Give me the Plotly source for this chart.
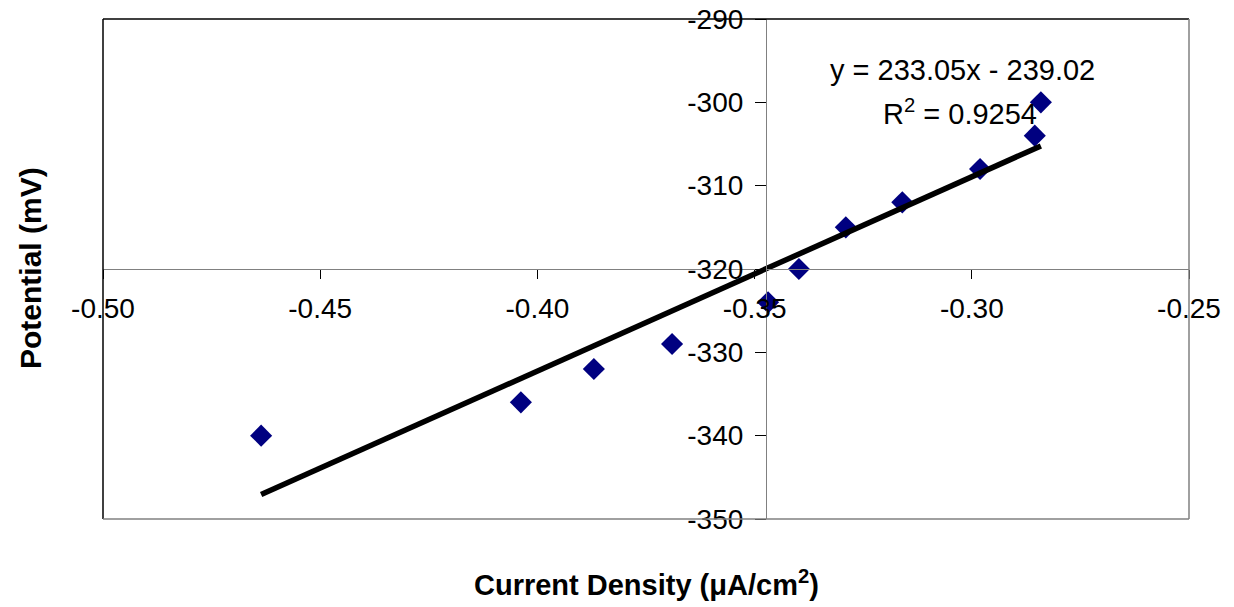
import plotly.graph_objects as go

# Data
current_density = [-0.4636, -0.4038, -0.3870, -0.3690, -0.3469, -0.3398,
                   -0.3290, -0.3160, -0.2981, -0.2855, -0.2841]
potential = [-340, -336, -332, -329, -324, -320, -315, -312, -308, -304, -300]

# Trendline as stated on the chart
slope = 233.05
intercept = -239.02
r_squared = 0.9254

x_ticks = [-0.50, -0.45, -0.40, -0.35, -0.30, -0.25]
y_ticks = [-350, -340, -330, -320, -310, -300, -290]
x_range = [-0.50, -0.25]
y_range = [-350, -290]
x_cross_y = -320      # horizontal axis crosses at this potential
y_cross_x = -0.3474   # vertical axis crosses at this current density

FONT = "Liberation Sans, Arial, sans-serif"

x_fit = [min(current_density), max(current_density)]
y_fit = [slope * v + intercept for v in x_fit]

fig = go.Figure()
fig.add_trace(go.Scatter(
    x=current_density, y=potential, mode="markers",
    marker=dict(symbol="diamond", size=17, color="#000080",
                line=dict(width=0)),
    showlegend=False, hoverinfo="x+y"))
fig.add_trace(go.Scatter(
    x=x_fit, y=y_fit, mode="lines",
    line=dict(color="black", width=5.5),
    showlegend=False, hoverinfo="skip"))

fig.update_layout(
    width=1234, height=607,
    margin=dict(l=103, r=45, t=19, b=88),
    paper_bgcolor="white", plot_bgcolor="white",
    font=dict(family=FONT, size=28, color="black"),
    xaxis=dict(
        range=x_range, tickvals=x_ticks,
        ticktext=[f"{v:.2f}" for v in x_ticks],
        showgrid=False, zeroline=False, automargin=False,
        showline=True, linecolor="#808080", linewidth=1,
        ticks="outside", ticklen=9, tickcolor="black", tickwidth=1,
        anchor="free",
        position=(x_cross_y - y_range[0]) / (y_range[1] - y_range[0]),
        ticklabelstandoff=5,
        tickfont=dict(family=FONT, size=28, color="black"),
    ),
    yaxis=dict(
        range=y_range, tickvals=y_ticks,
        ticktext=[f"{v:d}" for v in y_ticks],
        showgrid=False, zeroline=False, automargin=False,
        showline=True, linecolor="#808080", linewidth=1,
        ticks="outside", ticklen=11, tickcolor="black", tickwidth=1,
        anchor="free",
        position=(y_cross_x - x_range[0]) / (x_range[1] - x_range[0]),
        ticklabelstandoff=6,
        tickfont=dict(family=FONT, size=28, color="black"),
    ),
    shapes=[
        dict(type="line", xref="paper", yref="paper", x0=0, x1=1, y0=1, y1=1,
             line=dict(color="black", width=1.5)),
        dict(type="line", xref="paper", yref="paper", x0=0, x1=0, y0=0, y1=1,
             line=dict(color="black", width=1.5)),
        dict(type="line", xref="paper", yref="paper", x0=1, x1=1, y0=0, y1=1,
             line=dict(color="#808080", width=1.5)),
        dict(type="line", xref="paper", yref="paper", x0=0, x1=1, y0=0, y1=0,
             line=dict(color="#808080", width=1.5)),
    ],
    annotations=[
        dict(text=f"y = {slope:.2f}x - {abs(intercept):.2f}",
             xref="paper", yref="paper", x=(962 - 103) / 1086, y=(519 - 70) / 500,
             xanchor="center", yanchor="middle", showarrow=False,
             font=dict(family=FONT, size=29, color="black")),
        dict(text=f"R<sup>2</sup> = {r_squared:.4f}",
             xref="paper", yref="paper", x=(960 - 103) / 1086, y=(519 - 112) / 500,
             xanchor="center", yanchor="middle", showarrow=False,
             font=dict(family=FONT, size=29, color="black")),
        dict(text="<b>Current Density (μA/cm<sup>2</sup>)</b>",
             xref="paper", yref="paper", x=(646 - 103) / 1086, y=(519 - 583) / 500,
             xanchor="center", yanchor="middle", showarrow=False,
             font=dict(family=FONT, size=29, color="black")),
        dict(text="<b>Potential (mV)</b>",
             xref="paper", yref="paper", x=(30 - 103) / 1086, y=(519 - 268) / 500,
             xanchor="center", yanchor="middle", showarrow=False, textangle=-90,
             font=dict(family=FONT, size=30, color="black")),
    ],
)

fig.write_html("out.html", config={"displayModeBar": False},
               post_script="document.body.style.margin='0';")
